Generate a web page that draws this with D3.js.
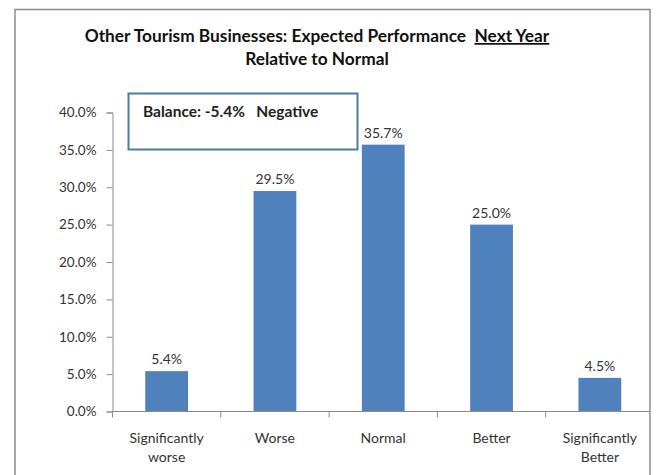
<!DOCTYPE html>
<html>
<head>
<meta charset="utf-8">
<script src="https://cdn.jsdelivr.net/npm/d3@7"></script>
<style>
  html, body { margin: 0; padding: 0; background: #fff; }
  svg { display: block; }
  text { font-family: Lato, "Open Sans", sans-serif; }
</style>
</head>
<body>
<svg id="chart" width="658" height="475"></svg>
<script>
// Survey responses: expected performance next year relative to normal
const categories = [
  ["Significantly", "worse"],
  ["Worse"],
  ["Normal"],
  ["Better"],
  ["Significantly", "Better"]
];
const values = [5.4, 29.5, 35.7, 25.0, 4.5];
const yTicks = [0, 5, 10, 15, 20, 25, 30, 35, 40];
const titleLines = ["Other Tourism Businesses: Expected Performance", "Next Year", "Relative to Normal"];
const balanceText = "Balance: -5.4%   Negative";

const svg = d3.select("#chart");
const W = 658, H = 475;

svg.append("rect").attr("width", W).attr("height", H).attr("fill", "#fff");

// outer chart frame (bottom edge runs off the page)
svg.append("path")
  .attr("d", "M15,480 V9.5 H650 V480")
  .attr("fill", "none")
  .attr("stroke", "#8c8c8c")
  .attr("stroke-width", 1.5);

// title
const title = svg.append("text")
  .attr("x", 317).attr("y", 42)
  .attr("text-anchor", "middle")
  .attr("font-weight", "bold")
  .attr("font-size", 17.3)
  .attr("fill", "#111");
title.append("tspan").text(titleLines[0] + "\u00a0\u00a0");
title.append("tspan").attr("text-decoration", "underline").text(titleLines[1]);
svg.append("text")
  .attr("x", 317).attr("y", 65)
  .attr("text-anchor", "middle")
  .attr("font-weight", "bold")
  .attr("font-size", 17.3)
  .attr("fill", "#111")
  .text(titleLines[2]);

// scales
const x = d3.scaleBand()
  .domain(d3.range(values.length))
  .range([112.5, 654])
  .paddingInner(0.605)
  .paddingOuter(0.3025);
const y = d3.scaleLinear().domain([0, 40]).range([411.5, 112.5]);

// y axis
const yAxis = d3.axisLeft(y)
  .tickValues(yTicks)
  .tickSize(6)
  .tickPadding(10)
  .tickFormat(d => d.toFixed(1) + "%");
const gy = svg.append("g").attr("transform", "translate(112.5,0)").call(yAxis);
gy.select(".domain").attr("stroke", "#8a8a8a");
gy.selectAll(".tick line").attr("stroke", "#8a8a8a");
gy.selectAll(".tick text")
  .attr("font-family", "Lato, sans-serif")
  .attr("font-size", 13.5)
  .attr("fill", "#333");

// bars
svg.append("g").selectAll("rect")
  .data(values)
  .join("rect")
  .attr("x", (d, i) => x(i))
  .attr("width", x.bandwidth())
  .attr("y", d => y(d))
  .attr("height", d => y(0) - y(d))
  .attr("fill", "#4f81bd");

// value labels
svg.append("g").selectAll("text")
  .data(values)
  .join("text")
  .attr("x", (d, i) => x(i) + x.bandwidth() / 2)
  .attr("y", d => y(d) - 7)
  .attr("text-anchor", "middle")
  .attr("font-size", 14)
  .attr("fill", "#333")
  .text(d => d.toFixed(1) + "%");

// x axis: baseline with ticks at band boundaries
const step = x.step();
const x0 = 112.5;
svg.append("line")
  .attr("x1", x0).attr("x2", 650)
  .attr("y1", y(0)).attr("y2", y(0))
  .attr("stroke", "#8a8a8a");
svg.append("g").selectAll("line")
  .data(d3.range(values.length))
  .join("line")
  .attr("x1", i => x0 + i * step).attr("x2", i => x0 + i * step)
  .attr("y1", y(0)).attr("y2", y(0) + 6)
  .attr("stroke", "#8a8a8a");

// category labels
const cat = svg.append("g").selectAll("text")
  .data(categories)
  .join("text")
  .attr("x", (d, i) => x(i) + x.bandwidth() / 2)
  .attr("y", 443)
  .attr("text-anchor", "middle")
  .attr("font-size", 14)
  .attr("fill", "#333");
cat.selectAll("tspan")
  .data(d => d)
  .join("tspan")
  .attr("x", function () { return this.parentNode.getAttribute("x"); })
  .attr("dy", (d, j) => j === 0 ? 0 : 19)
  .text(d => d);

// balance annotation box
svg.append("rect")
  .attr("x", 128.5).attr("y", 93.5)
  .attr("width", 229).attr("height", 56)
  .attr("fill", "#fff")
  .attr("stroke", "#4a7e9c")
  .attr("stroke-width", 2);
svg.append("text")
  .attr("x", 143).attr("y", 117)
  .attr("font-weight", "bold")
  .attr("font-size", 15.5)
  .attr("fill", "#222")
  .attr("xml:space", "preserve")
  .style("white-space", "pre")
  .text(balanceText);
</script>
</body>
</html>
